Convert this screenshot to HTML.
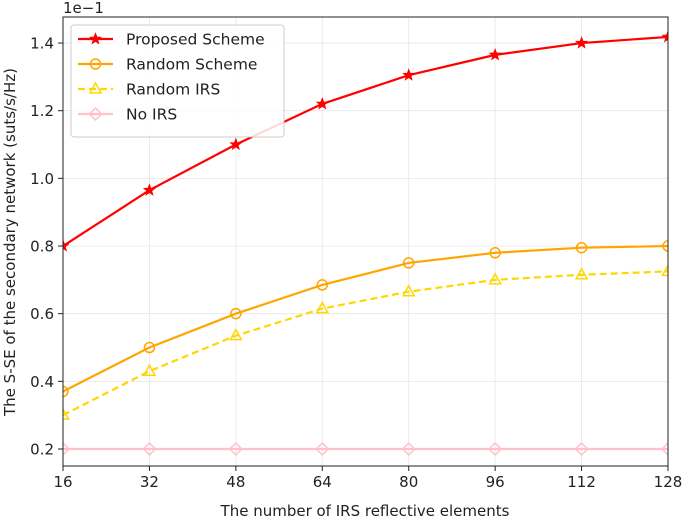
<!DOCTYPE html>
<html><head><meta charset="utf-8"><style>
body{margin:0;background:#fff;}
svg text{font-family:"DejaVu Sans","Liberation Sans",sans-serif;fill:#222;}
</style></head><body>
<svg id="chart" width="685" height="518" viewBox="0 0 685 518" xmlns="http://www.w3.org/2000/svg"></svg>
<script>
const categories=[16,32,48,64,80,96,112,128];
const proposed=[0.80,0.965,1.10,1.22,1.305,1.365,1.40,1.418];
const randomScheme=[0.37,0.50,0.60,0.685,0.75,0.78,0.795,0.80];
const randomIRS=[0.30,0.43,0.535,0.615,0.665,0.70,0.715,0.725];
const noIRS=[0.2,0.2,0.2,0.2,0.2,0.2,0.2,0.2];
const yTicks=[0.2,0.4,0.6,0.8,1.0,1.2,1.4];
const yTickLabels=["0.2","0.4","0.6","0.8","1.0","1.2","1.4"];
const L=63,R=668,T=17,B=466;
const xs=v=>L+(v-16)/(128-16)*(R-L);
const ys=v=>449-(v-0.2)*338.3;
const NS="http://www.w3.org/2000/svg";
const svg=document.getElementById('chart');
function mk(tag,attrs,parent){const e=document.createElementNS(NS,tag);for(const k in attrs)e.setAttribute(k,attrs[k]);(parent||svg).appendChild(e);return e;}
const grid=mk('g',{});


categories.forEach(c=>{mk('line',{x1:xs(c),x2:xs(c),y1:T,y2:B,stroke:'#e6e6e6','stroke-width':0.8},grid);});
yTicks.forEach(v=>{mk('line',{x1:L,x2:R,y1:ys(v),y2:ys(v),stroke:'#e6e6e6','stroke-width':0.8},grid);});
const xa=mk('g',{});


categories.forEach(c=>{mk('line',{x1:xs(c),x2:xs(c),y1:B,y2:B+5,stroke:'#222'},xa);const t=mk('text',{x:xs(c),y:B+21,'text-anchor':'middle','font-size':15},xa);t.textContent=c;});
const ya=mk('g',{});


yTicks.forEach((v,i)=>{mk('line',{x1:L-5,x2:L,y1:ys(v),y2:ys(v),stroke:'#222'},ya);const t=mk('text',{x:L-9,y:ys(v)+5.5,'text-anchor':'end','font-size':15},ya);t.textContent=yTickLabels[i];});
function marker(type,x,y,color,g){
 if(type==='star'){let p=[];for(let i=0;i<10;i++){const r=i%2?2.3:5.5,a=-Math.PI/2+i*Math.PI/5;p.push((x+r*Math.cos(a)).toFixed(1)+','+(y+r*Math.sin(a)).toFixed(1));}mk('polygon',{points:p.join(' '),fill:color,stroke:color},g);}
 else if(type==='circle')mk('circle',{cx:x,cy:y,r:5,fill:'none',stroke:color,'stroke-width':1.5},g);
 else if(type==='tri')mk('polygon',{points:`${x},${y-6} ${x-5.5},${y+4} ${x+5.5},${y+4}`,fill:'none',stroke:color,'stroke-width':1.5},g);
 else mk('polygon',{points:`${x},${y-6} ${x+6},${y} ${x},${y+6} ${x-6},${y}`,fill:'none',stroke:color,'stroke-width':1.5},g);
}
const series=[
 {name:'Proposed Scheme',data:proposed,color:'#ff0000',m:'star',dash:null,id:'series-proposed'},
 {name:'Random Scheme',data:randomScheme,color:'#ffa500',m:'circle',dash:null,id:'series-random-scheme'},
 {name:'Random IRS',data:randomIRS,color:'#ffd700',m:'tri',dash:'7,4',id:'series-random-irs'},
 {name:'No IRS',data:noIRS,color:'#ffc0cb',m:'diamond',dash:null,id:'series-no-irs'}];
const clip=mk('clipPath',{id:'pc'});mk('rect',{x:L,y:T,width:R-L,height:B-T},clip);
series.slice().reverse().forEach(s=>{
 const g=mk('g',{'clip-path':'url(#pc)'});
 
 
 const pts=s.data.map((v,i)=>xs(categories[i])+','+ys(v)).join(' ');
 const a={points:pts,fill:'none',stroke:s.color,'stroke-width':2.2};if(s.dash)a['stroke-dasharray']=s.dash;
 mk('polyline',a,g);
 s.data.forEach((v,i)=>marker(s.m,xs(categories[i]),ys(v),s.color,g));
});
mk('rect',{x:L,y:T,width:R-L,height:B-T,fill:'none',stroke:'#222','stroke-width':1});
const lg=mk('g',{});


mk('rect',{x:71,y:25,width:213,height:112,rx:3,fill:'#fff','fill-opacity':0.85,stroke:'#ccc'},lg);
series.forEach((s,i)=>{
 const y=39+i*25;
 const e=mk('g',{},lg);
 
 
 const a={x1:78,x2:113,y1:y,y2:y,stroke:s.color,'stroke-width':2.2};if(s.dash)a['stroke-dasharray']='7,4';
 mk('line',a,e);marker(s.m,95.5,y,s.color,e);
 const t=mk('text',{x:126,y:y+5.5,'font-size':15.5},e);t.textContent=s.name;
});
const t1=mk('text',{x:63,y:13,'font-size':15});t1.textContent='1e\u22121';

const xt=mk('text',{x:365,y:516,'text-anchor':'middle','font-size':15});xt.textContent='The number of IRS reflective elements';

const yt=mk('text',{x:0,y:0,'text-anchor':'middle','font-size':15,transform:'translate(15,242) rotate(-90)'});yt.textContent='The S-SE of the secondary network (suts/s/Hz)';

</script>
</body></html>
